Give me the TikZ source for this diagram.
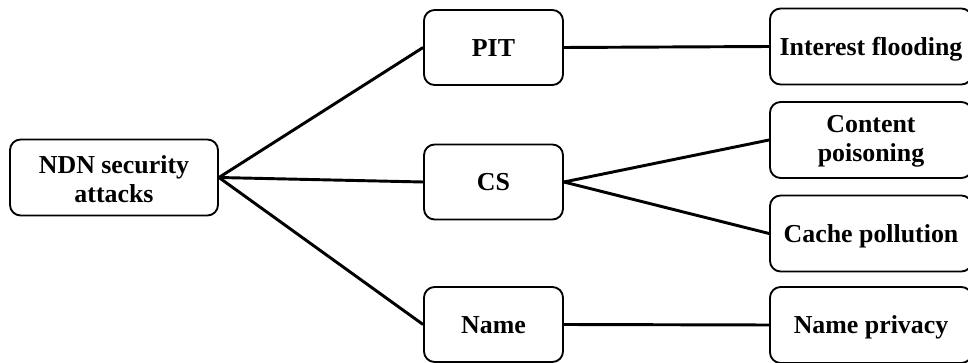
\documentclass[tikz,border=0pt]{standalone}
\usepackage{fontspec}
\setmainfont{Liberation Serif}
\begin{document}
\begin{tikzpicture}[x=0.75pt,y=-0.75pt,
  box/.style={draw, line width=1.4pt, rounded corners=8pt, fill=white,
    font=\fontsize{19.4}{22}\selectfont\bfseries, align=center, inner sep=0pt},
  oneline/.style={text height=12.8pt, text depth=0pt},
  rootbox/.style={box, minimum width=156pt, minimum height=57pt, text height=37.5pt, text depth=0pt},
  midbox/.style={box, oneline, minimum width=104.25pt, minimum height=56.25pt},
  leafbox/.style={box, minimum width=151.5pt, minimum height=57pt},
  link/.style={line width=2.2pt}]
\useasboundingbox (0,0) rectangle (968,363);
\clip (0,0) rectangle (968,363);
\node[rootbox] (root) at (114,177.5) {NDN security\\attacks};
\node[midbox] (pit) at (493.5,47.5) {PIT};
\node[midbox] (cs) at (493.5,182) {CS};
\node[midbox] (name) at (493.5,324.5) {Name};
\node[leafbox, oneline] (if) at (871,46.5) {Interest flooding};
\node[leafbox, text height=33pt, text depth=0pt] (cp) at (871,140) {Content\\poisoning};
\node[leafbox, oneline] (cap) at (871,233.5) {Cache pollution};
\node[leafbox, oneline] (np) at (871,325) {Name privacy};
\draw[link] (root.east) -- (pit.west);
\draw[link] (root.east) -- (cs.west);
\draw[link] (root.east) -- (name.west);
\draw[link] (pit.east) -- (if.west);
\draw[link] (cs.east) -- (cp.west);
\draw[link] (cs.east) -- (cap.west);
\draw[link] (name.east) -- (np.west);
\end{tikzpicture}
\end{document}
